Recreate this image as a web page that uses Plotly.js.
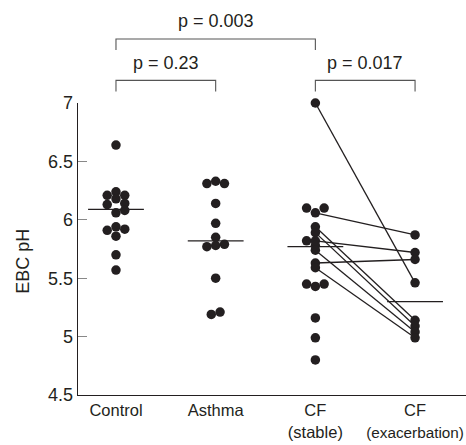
<!DOCTYPE html>
<html>
<head>
<meta charset="utf-8">
<script src="https://cdn.plot.ly/plotly-3.0.1.min.js"></script>
<style>html,body{margin:0;padding:0;background:#fff;}#chart{width:466px;height:445px;}</style>
</head>
<body>
<div id="chart"></div>
<script>
// ---- data ----
var categories = ['Control', 'Asthma', 'CF<br>(stable)', 'CF<br><span style="font-size:15.3px">(exacerbation)</span>'];
var controlValues = [6.64, 6.21, 6.24, 6.21, 6.13, 6.18, 6.14, 6.06, 6.08, 5.91, 5.94, 5.92, 5.86, 5.70, 5.57];
var controlJitter = [0, -1, 0, 1, -1, 0, 1, 0, 1, -1, 0, 1, 0, 0, 0];
var asthmaValues = [6.31, 6.33, 6.31, 6.14, 5.97, 5.85, 5.77, 5.78, 5.79, 5.50, 5.19, 5.21];
var asthmaJitter = [-1, 0, 1, 0, 0, 0, -1, 0, 1, 0, -0.5, 0.5];
var cfStableValues = [7.00, 6.10, 6.06, 6.10, 5.94, 5.89, 5.82, 5.82, 5.78, 5.74, 5.63, 5.59, 5.45, 5.43, 5.45, 5.16, 4.99, 4.80];
var cfStableJitter = [0, -1, 0, 1, 0, 0, -1, 0, 0, 0, 0, 0, -1, 0, 1, 0, 0, 0];
var cfExacValues = [5.87, 5.72, 5.66, 5.46, 5.14, 5.09, 5.04, 4.99];
var cfExacJitter = [0, 0, 0, 0, 0, 0, 0, 0];
var pairStableIdx = [0, 2, 4, 5, 7, 9, 10, 11];
var pairExacIdx = [3, 0, 4, 5, 1, 6, 2, 7];
var groupMeans = [6.09, 5.82, 5.77, 5.30];
var comparisons = [
  {from: 0, to: 2, label: 'p = 0.003', level: 2},
  {from: 0, to: 1, label: 'p = 0.23', level: 1},
  {from: 2, to: 3, label: 'p = 0.017', level: 1}
];
var yTicks = [4.5, 5, 5.5, 6, 6.5, 7];
var yTickText = ['4.5', '5', '5.5', '6', '6.5', '7'];

// ---- style ----
var INK = '#231f20';
var FONT = 'Liberation Sans, Arial, sans-serif';
var JIT = 0.088;
var HALF = 0.28;

var groups = [
  {v: controlValues, j: controlJitter},
  {v: asthmaValues, j: asthmaJitter},
  {v: cfStableValues, j: cfStableJitter},
  {v: cfExacValues, j: cfExacJitter}
];

var traces = [];
pairStableIdx.forEach(function (si, k) {
  var ei = pairExacIdx[k];
  traces.push({
    type: 'scatter', mode: 'lines', hoverinfo: 'skip', cliponaxis: false,
    x: [2 + cfStableJitter[si] * JIT, 3 + cfExacJitter[ei] * JIT],
    y: [cfStableValues[si], cfExacValues[ei]],
    line: {color: INK, width: 1.3}
  });
});
groupMeans.forEach(function (m, i) {
  traces.push({
    type: 'scatter', mode: 'lines', hoverinfo: 'skip',
    x: [i - HALF, i + HALF], y: [m, m],
    line: {color: INK, width: 1.3}
  });
});
groups.forEach(function (g, i) {
  traces.push({
    type: 'scatter', mode: 'markers', cliponaxis: false,
    x: g.v.map(function (_, k) { return i + g.j[k] * JIT; }),
    y: g.v,
    marker: {color: INK, size: 9.5, line: {width: 0}}
  });
});

var plotTop = 103.3, plotBottom = 395.3;
function paperY(px) { return (plotBottom - px) / (plotBottom - plotTop); }
var levelLineY = {1: paperY(80.7), 2: paperY(39.3)};
var levelDrop = paperY(91.7) - paperY(80.7);
var levelTextY = {1: paperY(63.3), 2: paperY(21.7)};

var shapes = [], annotations = [];
comparisons.forEach(function (c) {
  var yl = levelLineY[c.level];
  shapes.push({
    type: 'path', xref: 'x', yref: 'paper',
    path: 'M ' + c.from + ' ' + (yl + levelDrop) + ' L ' + c.from + ' ' + yl +
          ' L ' + c.to + ' ' + yl + ' L ' + c.to + ' ' + (yl + levelDrop),
    line: {color: '#555', width: 1.1}
  });
  annotations.push({
    xref: 'x', yref: 'paper', x: (c.from + c.to) / 2, y: levelTextY[c.level],
    text: c.label, showarrow: false, xanchor: 'center', yanchor: 'middle',
    font: {family: FONT, size: 18, color: INK}
  });
});
annotations.push({
  xref: 'paper', yref: 'paper', x: (23 - 78) / 388, y: paperY(262),
  text: 'EBC pH', textangle: -90, showarrow: false, xanchor: 'center', yanchor: 'middle',
  font: {family: FONT, size: 18, color: INK}
});

var layout = {
  width: 466, height: 445,
  margin: {l: 78, r: 0, t: plotTop, b: 445 - plotBottom, pad: 0},
  paper_bgcolor: '#fff', plot_bgcolor: '#fff',
  showlegend: false,
  font: {family: FONT, size: 18, color: INK},
  xaxis: {
    range: [-0.381, 3.511], tickvals: [0, 1, 2, 3], ticktext: categories,
    showline: true, linecolor: INK, linewidth: 1.3, ticks: '', showgrid: false,
    zeroline: false, ticklabeloverflow: 'allow',
    tickfont: {family: FONT, size: 16.5, color: INK}, fixedrange: true
  },
  yaxis: {
    range: [4.5, 7], tickvals: yTicks, ticktext: yTickText,
    showline: true, linecolor: INK, linewidth: 1.3, ticks: 'inside', ticklen: 9,
    tickcolor: '#888', tickwidth: 1.2, showgrid: false, zeroline: false,
    tickfont: {family: FONT, size: 18, color: INK}, fixedrange: true
  },
  shapes: shapes,
  annotations: annotations
};

Plotly.newPlot('chart', traces, layout, {displayModeBar: false, staticPlot: true});
</script>
</body>
</html>
